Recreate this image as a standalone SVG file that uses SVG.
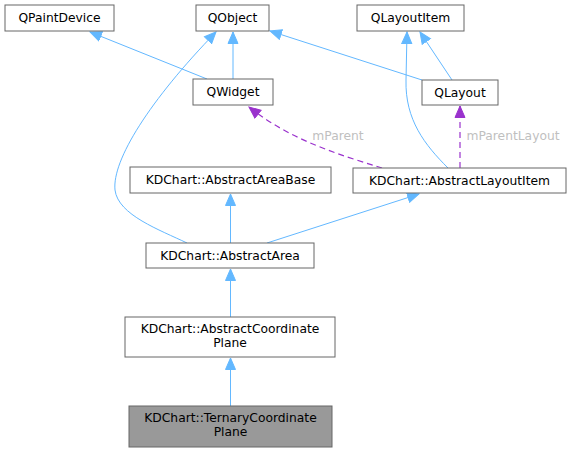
<svg xmlns="http://www.w3.org/2000/svg" width="571" height="452" viewBox="0 0 571 452">
<style>
.n rect{fill:#fff;stroke:#666;stroke-width:1}
.n.hl rect{fill:#999}
text{font-family:"DejaVu Sans","Liberation Sans",sans-serif;font-size:12.3px;fill:#000;text-anchor:middle}
.e{fill:none;stroke:#63b8ff;stroke-width:1}
.d{fill:none;stroke:#9a32cd;stroke-width:1.2;stroke-dasharray:6,4}
.lbl{fill:#bfbfbf}
</style>
<defs>
<marker id="ab" markerUnits="userSpaceOnUse" markerWidth="13" markerHeight="12" refX="12" refY="6" orient="auto"><path d="M0.5,1 L12,6 L0.5,11 z" fill="#63b8ff" stroke="#63b8ff"/></marker>
<marker id="ap" markerUnits="userSpaceOnUse" markerWidth="13" markerHeight="12" refX="12" refY="6" orient="auto"><path d="M0.5,1 L12,6 L0.5,11 z" fill="#9a32cd" stroke="#9a32cd"/></marker>
</defs>
<g id="edges">
<path class="e" d="M207,79 L90,32" marker-end="url(#ab)"/>
<path class="e" d="M233,79 L233,32" marker-end="url(#ab)"/>
<path class="e" d="M422,80 L270,31" marker-end="url(#ab)"/>
<path class="e" d="M452,80 L420,32" marker-end="url(#ab)"/>
<path class="e" d="M448,168 C425,145 405,120 406,80 L407,32" marker-end="url(#ab)"/>
<path class="d" d="M382,168 C340,155 290,140 249,107" marker-end="url(#ap)"/>
<path class="d" d="M460,168 L460,106" marker-end="url(#ap)"/>
<path class="e" d="M187,243 C160,230 118,215 115,190 C112,160 150,100 216,32" marker-end="url(#ab)"/>
<path class="e" d="M230.5,243 L230.5,194" marker-end="url(#ab)"/>
<path class="e" d="M267,243 L419,194" marker-end="url(#ab)"/>
<path class="e" d="M230.5,317 L230.5,269" marker-end="url(#ab)"/>
<path class="e" d="M230.5,406 L230.5,358" marker-end="url(#ab)"/>
<text class="lbl" x="338" y="140">mParent</text>
<text class="lbl" x="513" y="140">mParentLayout</text>
</g>
<g id="QPaintDevice" class="n"><rect x="5" y="5" width="109" height="26"/><text x="59.5" y="22">QPaintDevice</text></g>
<g id="QObject" class="n"><rect x="196" y="5" width="73" height="26"/><text x="232.5" y="22">QObject</text></g>
<g id="QLayoutItem" class="n"><rect x="357" y="5" width="107" height="26"/><text x="410.5" y="22">QLayoutItem</text></g>
<g id="QWidget" class="n"><rect x="193" y="79" width="80" height="26"/><text x="233" y="96">QWidget</text></g>
<g id="QLayout" class="n"><rect x="422" y="80" width="76" height="25"/><text x="460" y="96.5">QLayout</text></g>
<g id="AbstractAreaBase" class="n"><rect x="130" y="167" width="201" height="26"/><text x="230.5" y="184">KDChart::AbstractAreaBase</text></g>
<g id="AbstractLayoutItem" class="n"><rect x="353" y="168" width="213" height="25"/><text x="459.5" y="184.5">KDChart::AbstractLayoutItem</text></g>
<g id="AbstractArea" class="n"><rect x="146" y="243" width="168" height="25"/><text x="230" y="259.5">KDChart::AbstractArea</text></g>
<g id="AbstractCoordinatePlane" class="n"><rect x="125" y="317" width="210" height="40"/><text x="230" y="333">KDChart::AbstractCoordinate</text><text x="230" y="347">Plane</text></g>
<g id="TernaryCoordinatePlane" class="n hl"><rect x="129" y="406" width="203" height="41"/><text x="230.5" y="422">KDChart::TernaryCoordinate</text><text x="230.5" y="436">Plane</text></g>
</svg>
